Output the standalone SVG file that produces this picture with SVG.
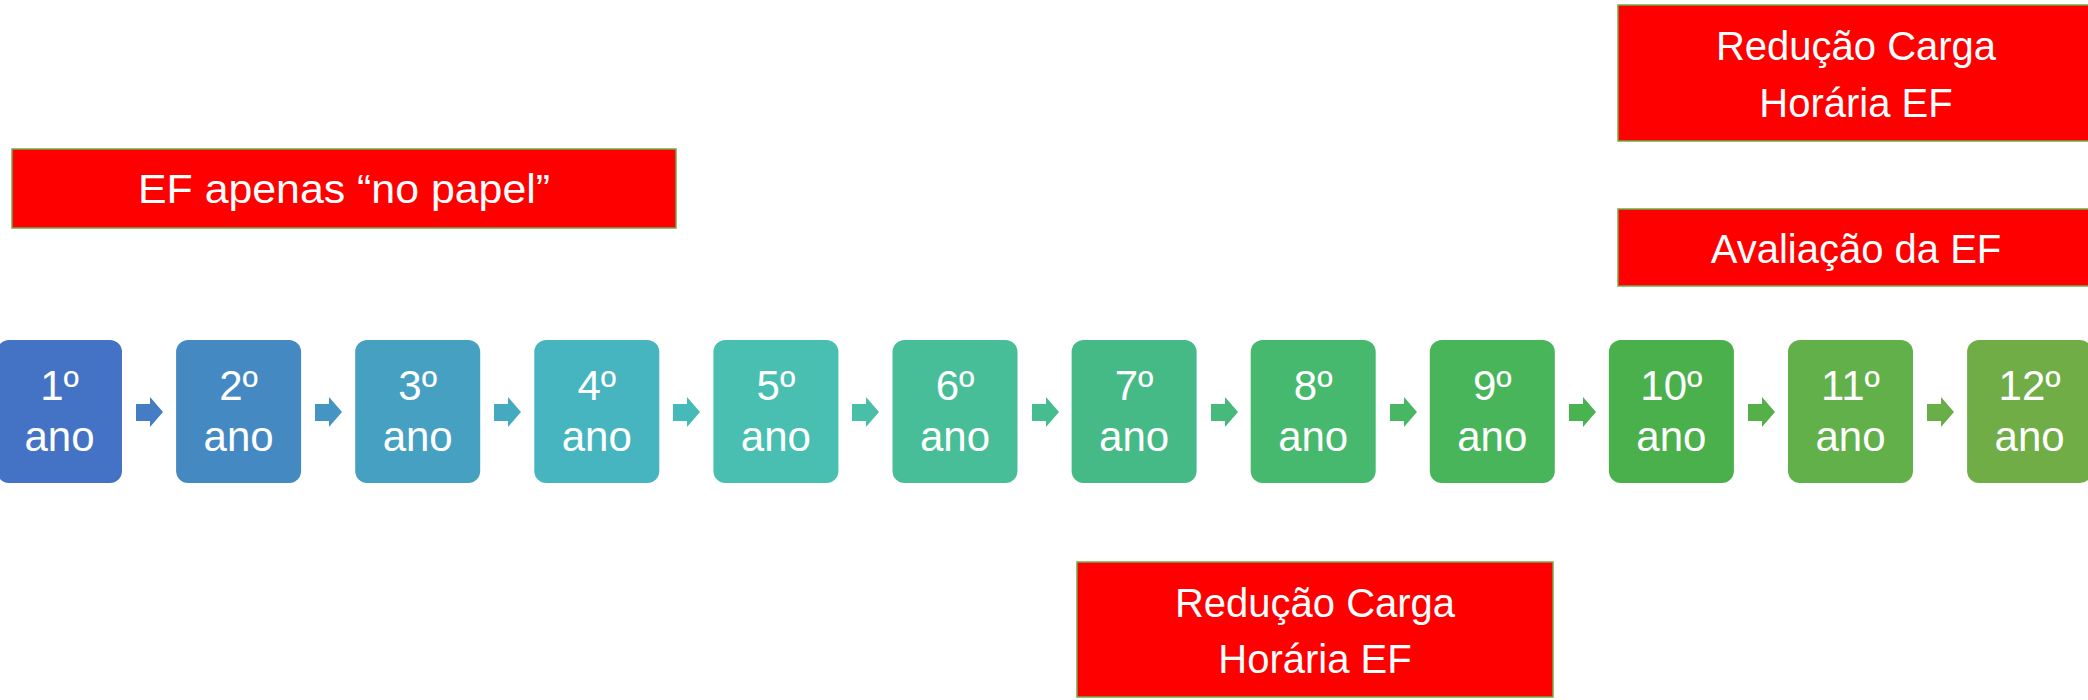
<svg xmlns="http://www.w3.org/2000/svg" width="2088" height="700" viewBox="0 0 2088 700">
<style>
.yr{font-family:"Liberation Sans",Arial,sans-serif;font-size:42px;fill:#fff;text-anchor:middle}
.rt{font-family:"Liberation Sans",Arial,sans-serif;font-size:40px;fill:#fff;text-anchor:middle}
.red{fill:#ff0000;stroke:#70ad47;stroke-width:1.5}
</style>
<rect width="2088" height="700" fill="#ffffff"/>
<g id="connectors">
<polygon points="136,404 150,404 150,397 163,412 150,427 150,421 136,421" fill="#447DC4"/>
<polygon points="315,404 329,404 329,397 342,412 329,427 329,421 315,421" fill="#4595C2"/>
<polygon points="494,404 508,404 508,397 521,412 508,427 508,421 494,421" fill="#45AAC0"/>
<polygon points="673,404 687,404 687,397 700,412 687,427 687,421 673,421" fill="#46BAB8"/>
<polygon points="852,404 866,404 866,397 879,412 866,427 866,421 852,421" fill="#48BFA6"/>
<polygon points="1032,404 1046,404 1046,397 1059,412 1046,427 1046,421 1032,421" fill="#46BD90"/>
<polygon points="1211,404 1225,404 1225,397 1238,412 1225,427 1225,421 1211,421" fill="#45BA7A"/>
<polygon points="1390,404 1404,404 1404,397 1417,412 1404,427 1404,421 1390,421" fill="#47B764"/>
<polygon points="1569,404 1583,404 1583,397 1596,412 1583,427 1583,421 1569,421" fill="#49B352"/>
<polygon points="1748,404 1762,404 1762,397 1775,412 1762,427 1762,421 1748,421" fill="#56B04A"/>
<polygon points="1927,404 1941,404 1941,397 1954,412 1941,427 1941,421 1927,421" fill="#69AE48"/>
</g>
<g id="n1"><rect x="-3" y="340" width="125" height="143" rx="12" fill="#4472C4"/><text class="yr" x="59.5" y="400">1º</text><text class="yr" x="59.5" y="451">ano</text></g>
<g id="n2"><rect x="176.1" y="340" width="125" height="143" rx="12" fill="#4589C3"/><text class="yr" x="238.6" y="400">2º</text><text class="yr" x="238.6" y="451">ano</text></g>
<g id="n3"><rect x="355.2" y="340" width="125" height="143" rx="12" fill="#46A0C1"/><text class="yr" x="417.7" y="400">3º</text><text class="yr" x="417.7" y="451">ano</text></g>
<g id="n4"><rect x="534.3" y="340" width="125" height="143" rx="12" fill="#46B5BF"/><text class="yr" x="596.8" y="400">4º</text><text class="yr" x="596.8" y="451">ano</text></g>
<g id="n5"><rect x="713.4" y="340" width="125" height="143" rx="12" fill="#48BFB1"/><text class="yr" x="775.9" y="400">5º</text><text class="yr" x="775.9" y="451">ano</text></g>
<g id="n6"><rect x="892.5" y="340" width="125" height="143" rx="12" fill="#47BE98"/><text class="yr" x="955" y="400">6º</text><text class="yr" x="955" y="451">ano</text></g>
<g id="n7"><rect x="1071.6" y="340" width="125" height="143" rx="12" fill="#45BA86"/><text class="yr" x="1134.1" y="400">7º</text><text class="yr" x="1134.1" y="451">ano</text></g>
<g id="n8"><rect x="1250.7" y="340" width="125" height="143" rx="12" fill="#46B96E"/><text class="yr" x="1313.2" y="400">8º</text><text class="yr" x="1313.2" y="451">ano</text></g>
<g id="n9"><rect x="1429.8" y="340" width="125" height="143" rx="12" fill="#48B55A"/><text class="yr" x="1492.3" y="400">9º</text><text class="yr" x="1492.3" y="451">ano</text></g>
<g id="n10"><rect x="1608.9" y="340" width="125" height="143" rx="12" fill="#4AB04B"/><text class="yr" x="1671.4" y="400">10º</text><text class="yr" x="1671.4" y="451">ano</text></g>
<g id="n11"><rect x="1788" y="340" width="125" height="143" rx="12" fill="#62B04A"/><text class="yr" x="1850.5" y="400">11º</text><text class="yr" x="1850.5" y="451">ano</text></g>
<g id="n12"><rect x="1967.1" y="340" width="125" height="143" rx="12" fill="#70AD47"/><text class="yr" x="2029.6" y="400">12º</text><text class="yr" x="2029.6" y="451">ano</text></g>
<g id="r-papel"><rect class="red" x="12" y="149" width="664" height="79"/><text class="rt" x="344" y="203" font-size="42" textLength="412" lengthAdjust="spacingAndGlyphs">EF apenas “no papel”</text></g>
<g id="r-reducao-top"><rect class="red" x="1618" y="5" width="476" height="136"/><text class="rt" x="1856" y="60">Redução Carga</text><text class="rt" x="1856" y="117">Horária EF</text></g>
<g id="r-avaliacao"><rect class="red" x="1618" y="209" width="476" height="77"/><text class="rt" x="1856" y="263">Avaliação da EF</text></g>
<g id="r-reducao-bottom"><rect class="red" x="1077" y="562" width="476" height="135"/><text class="rt" x="1315" y="617">Redução Carga</text><text class="rt" x="1315" y="673">Horária EF</text></g>
</svg>
